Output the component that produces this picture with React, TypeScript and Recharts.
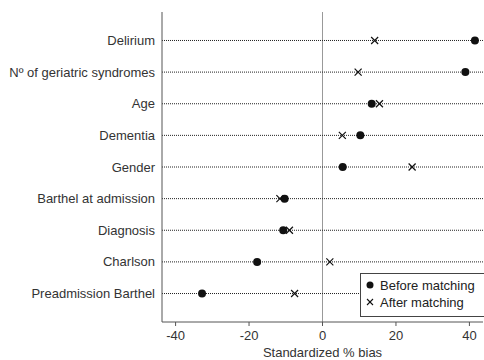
import { ReferenceLine, Scatter, ScatterChart, XAxis, YAxis } from "recharts";

const covariates = [
  "Delirium",
  "Nº of geriatric syndromes",
  "Age",
  "Dementia",
  "Gender",
  "Barthel at admission",
  "Diagnosis",
  "Charlson",
  "Preadmission Barthel",
];
const beforeMatching = [41.5, 38.9, 13.4, 10.3, 5.5, -10.3, -10.7, -17.8, -32.8];
const afterMatching = [14.2, 9.7, 15.5, 5.4, 24.4, -11.6, -9.0, 2.0, -7.6];
const xTicks = [-40, -20, 0, 20, 40];

const font = "'Liberation Sans', Arial, sans-serif";
const n = covariates.length;
const rows = covariates.map((_, i) => n - i);
const beforeData = covariates.map((name, i) => ({ name, bias: beforeMatching[i], row: n - i }));
const afterData = covariates.map((name, i) => ({ name, bias: afterMatching[i], row: n - i }));

const Cross = (props: any) => {
  const { cx, cy } = props;
  const s = 3.5;
  return (
    <g stroke="#111" strokeWidth={1.2}>
      <line x1={cx - s} y1={cy - s} x2={cx + s} y2={cy + s} />
      <line x1={cx - s} y1={cy + s} x2={cx + s} y2={cy - s} />
    </g>
  );
};

const Dot = (props: any) => <circle cx={props.cx} cy={props.cy} r={4} fill="#111" />;

// category names on the left, one line each
const RowTick = (props: any) => {
  const { x, y, payload } = props;
  return (
    <text x={x - 5} y={y} dy="0.35em" textAnchor="end" fill="#333" fontSize={13} fontFamily={font}>
      {covariates[n - payload.value]}
    </text>
  );
};

const LegendBox = () => (
  <div
    style={{
      position: "absolute",
      left: 360,
      top: 273,
      border: "1px solid #444",
      background: "#fff",
      width: 126,
      height: 44,
      boxSizing: "border-box",
      fontFamily: font,
      fontSize: 13,
      color: "#222",
      padding: "3px 0 0 3px",
      lineHeight: "17px",
    }}
  >
    <div>
      <svg width={12} height={10} style={{ marginRight: 4 }}>
        <circle cx={6} cy={5} r={3.5} fill="#111" />
      </svg>
      Before matching
    </div>
    <div>
      <svg width={12} height={10} style={{ marginRight: 4 }}>
        <g stroke="#111" strokeWidth={1.1}>
          <line x1={3} y1={2} x2={9} y2={8} />
          <line x1={3} y1={8} x2={9} y2={2} />
        </g>
      </svg>
      After matching
    </div>
  </div>
);

export default function App() {
  return (
    <div style={{ position: "absolute", left: 0, top: 0, width: 484, height: 360, background: "#fff", overflow: "hidden" }}>
      <ScatterChart
        width={484}
        height={360}
        margin={{ top: 12, right: 1, bottom: 0, left: 0 }}
        style={{ fontFamily: font }}
      >
        <XAxis
          type="number"
          dataKey="bias"
          domain={[-43.7, 43.7]}
          ticks={xTicks}
          allowDataOverflow
          height={38}
          tickSize={4}
          tickMargin={5}
          stroke="#555"
          tick={{ fill: "#333", fontSize: 13 }}
          label={{ value: "Standardized % bias", position: "insideBottom", offset: 3, fill: "#333", fontSize: 13 }}
        />
        <YAxis
          type="number"
          dataKey="row"
          domain={[0.1, n + 0.9]}
          ticks={rows}
          allowDataOverflow
          width={162}
          tickSize={0}
          stroke="#555"
          tick={<RowTick />}
        />
        <ReferenceLine x={0} stroke="#999" strokeWidth={1} />
        {rows.map((r) => (
          <ReferenceLine key={r} y={r} stroke="#222" strokeDasharray="1 1" strokeWidth={1} />
        ))}
        <Scatter name="Before matching" data={beforeData} shape={Dot} isAnimationActive={false} />
        <Scatter name="After matching" data={afterData} shape={Cross} isAnimationActive={false} />
      </ScatterChart>
      <LegendBox />
    </div>
  );
}
